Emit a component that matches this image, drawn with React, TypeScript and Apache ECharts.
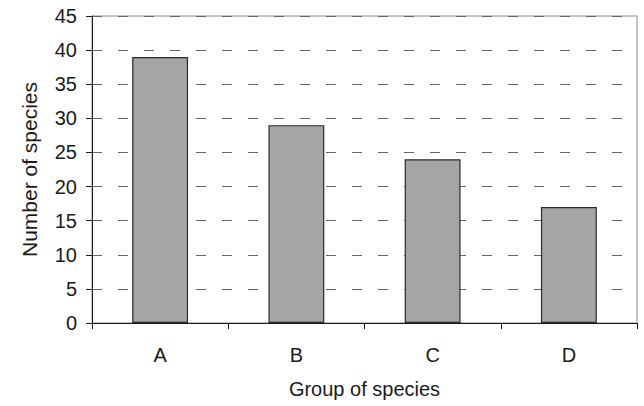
import React, { useEffect, useRef } from "react";
import * as echarts from "echarts";

const categories = ["A", "B", "C", "D"];
const values = [39, 29, 24, 17];
const yMin = 0;
const yMax = 45;
const yInterval = 5;
const xTitle = "Group of species";
const yTitle = "Number of species";

export default function App() {
  const ref = useRef<HTMLDivElement>(null);
  useEffect(() => {
    if (!ref.current) return;
    const chart = echarts.init(ref.current, null, { renderer: "svg" });
    const font = "Liberation Sans, Arial, sans-serif";
    chart.setOption({
      animation: false,
      backgroundColor: "#ffffff",
      grid: {
        left: 92,
        right: 7,
        top: 16,
        bottom: 83,
        show: true,
        borderColor: "#8c8c8c",
        borderWidth: 1,
      },
      xAxis: {
        type: "category",
        data: categories,
        name: xTitle,
        nameLocation: "middle",
        nameGap: 56,
        nameTextStyle: { color: "#1a1a1a", fontSize: 20, fontFamily: font },
        axisLine: { show: true, lineStyle: { color: "#1a1a1a", width: 1 } },
        axisTick: { show: true, alignWithLabel: false, length: 6, lineStyle: { color: "#1a1a1a" } },
        axisLabel: { color: "#1a1a1a", fontSize: 20, fontFamily: font, margin: 22 },
        splitLine: { show: false },
      },
      yAxis: {
        type: "value",
        min: yMin,
        max: yMax,
        interval: yInterval,
        name: yTitle,
        nameLocation: "middle",
        nameGap: 52,
        nameTextStyle: { color: "#1a1a1a", fontSize: 21, fontFamily: font },
        axisLine: { show: true, lineStyle: { color: "#1a1a1a", width: 1 } },
        axisTick: { show: true, length: 6, lineStyle: { color: "#1a1a1a" } },
        axisLabel: { color: "#1a1a1a", fontSize: 20, fontFamily: font, margin: 15 },
        splitLine: {
          show: true,
          lineStyle: { color: "#666666", width: 1, type: [10, 16] },
        },
      },
      series: [
        {
          type: "bar",
          data: values,
          barWidth: "41%",
          itemStyle: { color: "#a5a5a8", borderColor: "#2b2b2b", borderWidth: 1.2 },
        },
      ],
    });
    return () => chart.dispose();
  }, []);
  return (
    <div
      ref={ref}
      style={{ position: "absolute", left: 0, top: 0, width: 644, height: 406 }}
    />
  );
}
